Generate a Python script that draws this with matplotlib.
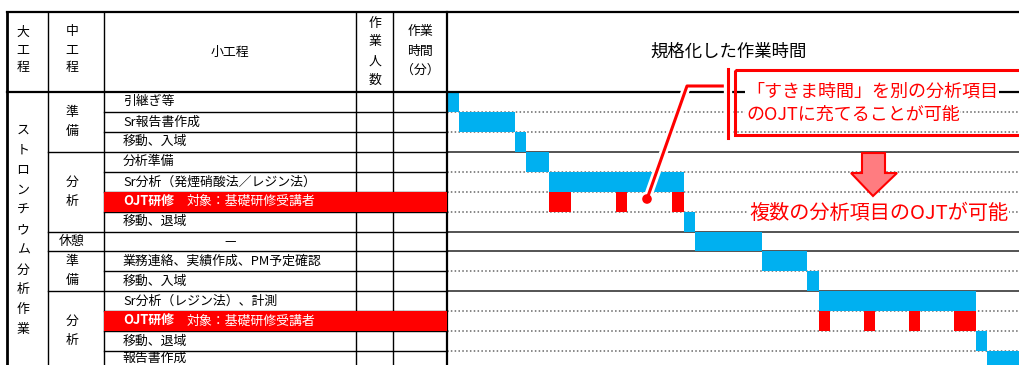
import matplotlib
matplotlib.use('Agg')
import matplotlib.pyplot as plt
from matplotlib.patches import Rectangle, Polygon, Circle
import matplotlib.patheffects as pe

plt.rcParams['font.family'] = ['Noto Sans CJK JP', 'DejaVu Sans']

# ---------------- data ----------------
header_major = "大工程"
header_mid = "中工程"
header_minor = "小工程"
header_people = "作業人数"
header_time = ["作業", "時間", "（分）"]
chart_title = "規格化した作業時間"

major_process = "ストロンチウム分析作業"
mid_groups = ["準備", "分析", "休憩", "準備", "分析"]
mid_group_start = [0, 3, 7, 8, 10]
mid_group_end = [3, 7, 8, 10, 14]

tasks = ["引継ぎ等", "Sr報告書作成", "移動、入域", "分析準備",
         "Sr分析（発煙硝酸法／レジン法）", "OJT研修", "移動、退域", "—",
         "業務連絡、実績作成、PM予定確認", "移動、入域",
         "Sr分析（レジン法）、計測", "OJT研修", "移動、退域", "報告書作成"]
ojt_target = "対象：基礎研修受講者"

# blue work bars (minutes)
blue_start = [0, 10, 60, 70, 90, None, 210, 220, 280, 320, 330, None, 470, 480]
blue_dur = [10, 50, 10, 20, 120, None, 10, 60, 40, 10, 140, None, 10, 40]

# red OJT segments (minutes)
ojt_rows = [5, 11]
ojt_start = [[90, 150, 200], [330, 370, 410, 450]]
ojt_dur = [[20, 10, 10], [10, 10, 10, 20]]

callout_line1 = "「すきま時間」を別の分析項目"
callout_line2 = "のOJTに充てることが可能"
result_text = "複数の分析項目のOJTが可能"

# ---------------- layout ----------------
W, H = 1020, 365
TOP = 12
HDR = 92
ROW_H = 19.93
X_OUT, X_MID, X_MIN, X_PPL, X_TIME, X_G = 7, 48, 104, 356, 393, 447.3
PX_PER_MIN = 1.125
BLUE = '#00B0F0'
RED = '#FF0000'
FS = 9.3

def ry(r):
    return HDR + r * ROW_H

fig = plt.figure(figsize=(W / 100, H / 100), dpi=100)

# Gantt axes (data scale: minutes x rows)
gx = fig.add_axes([X_G / W, 0, (W - X_G) / W, (H - HDR) / H])
gx.set_xlim(0, (W - X_G) / PX_PER_MIN)
gx.set_ylim((H - HDR) / ROW_H, 0)
gx.axis('off')
gx.patch.set_alpha(0)

solid_bounds = [3, 7, 8, 10]
n_rows = len(tasks)
for b in range(1, n_rows + 1):
    if b in solid_bounds:
        gx.axhline(b, color='#454545', lw=1.3, zorder=1)
    else:
        gx.axhline(b, color='#666666', lw=1.1, ls=(0, (1, 1.5)), zorder=1)

for i in range(n_rows):
    if blue_start[i] is not None:
        gx.barh(i + 0.5, blue_dur[i], left=blue_start[i], height=1.0,
                color=BLUE, edgecolor='none', zorder=2)
for r, starts, durs in zip(ojt_rows, ojt_start, ojt_dur):
    gx.barh([r + 0.5] * len(starts), durs, left=starts, height=1.0,
            color=RED, edgecolor='none', zorder=2)

# overlay axes in pixel coordinates (table + annotations)
ov = fig.add_axes([0, 0, 1, 1])
ov.set_xlim(0, W)
ov.set_ylim(H, 0)
ov.axis('off')
ov.patch.set_alpha(0)

lk = dict(color='black', lw=1.0, zorder=3)
# vertical column lines
for x in [X_MID, X_MIN, X_PPL, X_TIME]:
    ov.plot([x, x], [TOP, H], **lk)
ov.plot([X_G, X_G], [TOP, H], color='black', lw=1.6, zorder=3)
ov.plot([X_OUT, X_OUT], [TOP, H], color='black', lw=2.0, zorder=3)
# top and header lines
ov.plot([X_OUT, W], [TOP, TOP], color='black', lw=1.6, zorder=3)
ov.plot([X_OUT, W], [HDR, HDR], color='black', lw=1.6, zorder=3)
# row lines in table
for b in range(1, n_rows + 1):
    x0 = X_MID if b in solid_bounds else X_MIN
    ov.plot([x0, X_G], [ry(b), ry(b)], **lk)

# OJT rows red background in table
for r in ojt_rows:
    ov.add_patch(Rectangle((X_MIN, ry(r)), X_G - X_MIN, ROW_H, facecolor=RED,
                           edgecolor='none', zorder=4))

# header texts
for k, ch in enumerate(header_major):
    ov.text(23, 32 + 18 * k, ch, ha='center', va='center', fontsize=FS)
for k, ch in enumerate(header_mid):
    ov.text(72, 32 + 18 * k, ch, ha='center', va='center', fontsize=FS)
ov.text((X_MIN + X_PPL) / 2, 52, header_minor, ha='center', va='center', fontsize=FS)
for k, ch in enumerate(header_people):
    ov.text(375, 23 + 19 * k, ch, ha='center', va='center', fontsize=FS)
for k, t in enumerate(header_time):
    ov.text(420, 32 + 19 * k, t, ha='center', va='center', fontsize=FS)
ov.text(729, 52, chart_title, ha='center', va='center', fontsize=12.5)

# major process vertical text
for k, ch in enumerate(major_process):
    ov.text(23, 130 + 20 * k, ch, ha='center', va='center', fontsize=FS)

# mid groups
for name, s, e in zip(mid_groups, mid_group_start, mid_group_end):
    cy = (ry(s) + ry(e)) / 2
    if e - s == 1:
        ov.text(72, cy, name, ha='center', va='center', fontsize=FS)
    else:
        for k, ch in enumerate(name):
            ov.text(72, cy + (k - (len(name) - 1) / 2) * 19, ch,
                    ha='center', va='center', fontsize=FS)

# task names
for i, t in enumerate(tasks):
    cy = min(ry(i) + ROW_H / 2, H - 6.5)
    if i in ojt_rows:
        ov.text(123, cy, t, ha='left', va='center', fontsize=FS,
                color='white', fontweight='bold', zorder=5)
        ov.text(187, cy, ojt_target, ha='left', va='center', fontsize=FS,
                color='white', zorder=5)
    elif t == "—":
        ov.text((X_MIN + X_PPL) / 2, cy, t, ha='center', va='center', fontsize=FS)
    else:
        ov.text(123, cy, t, ha='left', va='center', fontsize=FS)

# ---------------- callout ----------------
halo = [pe.Stroke(linewidth=6, foreground='white'), pe.Normal()]
ov.plot([647, 687, 728], [199, 86, 86], color=RED, lw=2.2, zorder=6,
        path_effects=halo, solid_capstyle='butt')
ov.plot([728, 728], [69, 138], color=RED, lw=2.2, zorder=6, path_effects=halo)
ov.add_patch(Circle((647, 199), 4.8, facecolor=RED, edgecolor='none', zorder=7))
ov.add_patch(Rectangle((735, 70), 320, 65, facecolor='none', edgecolor=RED,
                       lw=2.2, zorder=6))
wb = dict(facecolor='white', edgecolor='none', pad=0.5)
ov.text(746, 92, callout_line1, ha='left', va='center', fontsize=13,
        color=RED, bbox=wb, zorder=7)
ov.text(746, 115, callout_line2, ha='left', va='center', fontsize=13,
        color=RED, bbox=wb, zorder=7)
ov.add_patch(Polygon([(862, 153), (885, 153), (885, 173), (897, 173), (873, 196),
                      (851, 173), (862, 173)], closed=True, facecolor='#FF7C80',
                     edgecolor=RED, lw=1.5, zorder=7))
ov.text(749, 213, result_text, ha='left', va='center', fontsize=14.5,
        color=RED, bbox=wb, zorder=7)

fig.savefig('out.png', dpi=100, facecolor='white')
